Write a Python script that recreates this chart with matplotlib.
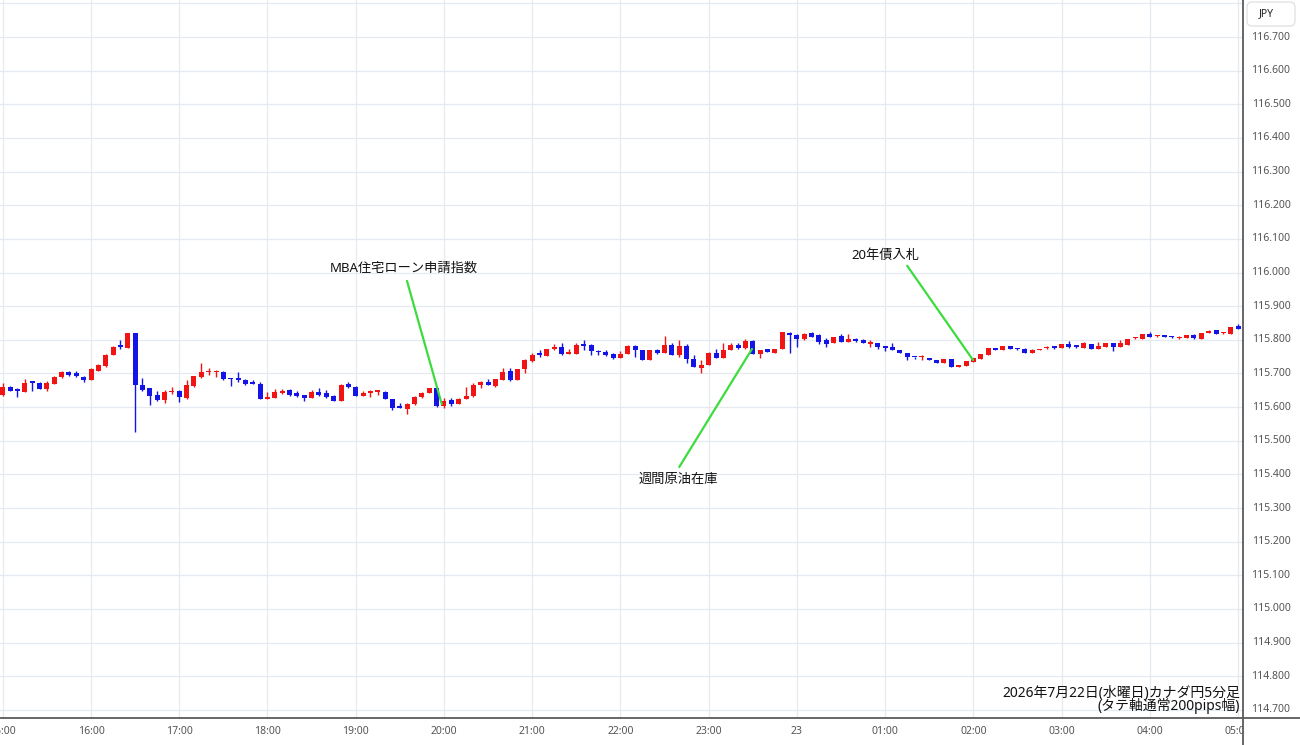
import matplotlib
matplotlib.use("Agg")
import matplotlib.pyplot as plt
from matplotlib import transforms
from matplotlib.patches import FancyBboxPatch, Rectangle
from matplotlib.lines import Line2D
import numpy as np

plt.rcParams['font.family'] = ['Noto Sans', 'Noto Sans CJK JP', 'DejaVu Sans']

# ---------------- data (5-minute candles, 15:00 -> 05:00) ----------------
tick_labels = ["15:00", "16:00", "17:00", "18:00", "19:00", "20:00", "21:00",
               "22:00", "23:00", "23", "01:00", "02:00", "03:00", "04:00", "05:00"]
candles_per_hour = 12

opens = [
    115.636, 115.661, 115.651, 115.646, 115.674, 115.673, 115.653, 115.670, 115.690, 115.705, 115.700, 115.690,
    115.680, 115.708, 115.722, 115.754, 115.781, 115.775, 115.820, 115.666, 115.656, 115.635, 115.620, 115.644,
    115.648, 115.627, 115.664, 115.690, 115.704, 115.703, 115.705, 115.687, 115.684, 115.680, 115.676, 115.670,
    115.625, 115.627, 115.641, 115.651, 115.643, 115.636, 115.627, 115.646, 115.641, 115.632, 115.619, 115.668,
    115.661, 115.632, 115.641, 115.646, 115.646, 115.625, 115.600, 115.594, 115.610, 115.629, 115.641, 115.656,
    115.604, 115.622, 115.610, 115.624, 115.632, 115.666, 115.676, 115.664, 115.680, 115.707, 115.680, 115.712,
    115.736, 115.757, 115.751, 115.773, 115.778, 115.759, 115.759, 115.788, 115.786, 115.765, 115.764, 115.759,
    115.747, 115.757, 115.783, 115.770, 115.741, 115.769, 115.762, 115.786, 115.754, 115.783, 115.744, 115.715,
    115.726, 115.761, 115.746, 115.770, 115.785, 115.776, 115.796, 115.759, 115.773, 115.762, 115.773, 115.821,
    115.813, 115.801, 115.820, 115.813, 115.798, 115.790, 115.810, 115.793, 115.803, 115.798, 115.789, 115.792,
    115.779, 115.778, 115.771, 115.761, 115.749, 115.748, 115.747, 115.741, 115.731, 115.744, 115.718, 115.723,
    115.734, 115.742, 115.756, 115.773, 115.770, 115.783, 115.774, 115.773, 115.762, 115.769, 115.775, 115.779,
    115.776, 115.788, 115.782, 115.776, 115.788, 115.773, 115.778, 115.790, 115.778, 115.785, 115.804, 115.803,
    115.818, 115.810, 115.811, 115.809, 115.805, 115.805, 115.815, 115.803, 115.821, 115.828, 115.819, 115.818,
    115.840,
]
highs = [
    115.673, 115.664, 115.656, 115.683, 115.675, 115.675, 115.677, 115.692, 115.708, 115.708, 115.707, 115.692,
    115.715, 115.729, 115.759, 115.782, 115.798, 115.821, 115.821, 115.688, 115.658, 115.648, 115.651, 115.661,
    115.651, 115.680, 115.692, 115.732, 115.715, 115.710, 115.708, 115.688, 115.705, 115.685, 115.680, 115.675,
    115.644, 115.654, 115.653, 115.653, 115.649, 115.636, 115.651, 115.656, 115.651, 115.636, 115.668, 115.674,
    115.663, 115.649, 115.651, 115.648, 115.648, 115.625, 115.612, 115.612, 115.632, 115.646, 115.657, 115.658,
    115.627, 115.627, 115.626, 115.661, 115.673, 115.677, 115.683, 115.685, 115.717, 115.715, 115.713, 115.744,
    115.761, 115.769, 115.773, 115.788, 115.790, 115.773, 115.791, 115.800, 115.788, 115.770, 115.770, 115.761,
    115.767, 115.786, 115.786, 115.770, 115.769, 115.773, 115.810, 115.790, 115.800, 115.788, 115.754, 115.741,
    115.764, 115.773, 115.791, 115.790, 115.790, 115.803, 115.798, 115.771, 115.773, 115.773, 115.823, 115.823,
    115.816, 115.820, 115.823, 115.816, 115.806, 115.808, 115.816, 115.816, 115.806, 115.803, 115.798, 115.792,
    115.783, 115.792, 115.771, 115.761, 115.749, 115.756, 115.747, 115.741, 115.744, 115.744, 115.724, 115.736,
    115.746, 115.759, 115.775, 115.773, 115.783, 115.783, 115.776, 115.775, 115.773, 115.773, 115.781, 115.783,
    115.788, 115.796, 115.786, 115.793, 115.788, 115.793, 115.790, 115.790, 115.798, 115.803, 115.808, 115.818,
    115.823, 115.813, 115.811, 115.811, 115.810, 115.815, 115.816, 115.821, 115.828, 115.830, 115.823, 115.839,
    115.847,
]
lows = [
    115.634, 115.647, 115.630, 115.646, 115.649, 115.653, 115.648, 115.670, 115.688, 115.692, 115.690, 115.675,
    115.680, 115.707, 115.718, 115.754, 115.773, 115.775, 115.525, 115.648, 115.607, 115.617, 115.612, 115.639,
    115.614, 115.624, 115.661, 115.688, 115.695, 115.690, 115.680, 115.663, 115.676, 115.665, 115.669, 115.624,
    115.624, 115.627, 115.639, 115.632, 115.630, 115.618, 115.627, 115.632, 115.627, 115.617, 115.619, 115.656,
    115.632, 115.632, 115.630, 115.636, 115.624, 115.592, 115.597, 115.580, 115.607, 115.626, 115.641, 115.600,
    115.597, 115.604, 115.608, 115.624, 115.630, 115.656, 115.666, 115.659, 115.680, 115.679, 115.680, 115.702,
    115.733, 115.749, 115.751, 115.769, 115.756, 115.759, 115.759, 115.770, 115.754, 115.754, 115.751, 115.744,
    115.747, 115.757, 115.749, 115.741, 115.741, 115.759, 115.762, 115.754, 115.749, 115.731, 115.720, 115.702,
    115.724, 115.747, 115.746, 115.770, 115.773, 115.773, 115.759, 115.747, 115.764, 115.762, 115.773, 115.762,
    115.780, 115.798, 115.808, 115.788, 115.780, 115.790, 115.793, 115.793, 115.793, 115.790, 115.780, 115.773,
    115.767, 115.770, 115.761, 115.741, 115.744, 115.739, 115.741, 115.731, 115.731, 115.718, 115.718, 115.723,
    115.734, 115.742, 115.756, 115.770, 115.770, 115.773, 115.770, 115.762, 115.762, 115.769, 115.772, 115.773,
    115.776, 115.776, 115.776, 115.776, 115.773, 115.773, 115.778, 115.767, 115.778, 115.785, 115.802, 115.803,
    115.808, 115.808, 115.809, 115.806, 115.803, 115.805, 115.803, 115.803, 115.821, 115.818, 115.818, 115.818,
    115.832,
]
closes = [
    115.661, 115.649, 115.649, 115.673, 115.672, 115.654, 115.673, 115.690, 115.703, 115.695, 115.693, 115.680,
    115.712, 115.726, 115.756, 115.780, 115.779, 115.820, 115.666, 115.651, 115.634, 115.620, 115.644, 115.646,
    115.630, 115.666, 115.692, 115.705, 115.705, 115.706, 115.685, 115.683, 115.682, 115.670, 115.669, 115.624,
    115.626, 115.646, 115.649, 115.636, 115.634, 115.626, 115.646, 115.637, 115.630, 115.619, 115.666, 115.661,
    115.632, 115.641, 115.648, 115.647, 115.624, 115.597, 115.598, 115.610, 115.630, 115.643, 115.656, 115.604,
    115.619, 115.610, 115.625, 115.634, 115.666, 115.676, 115.666, 115.683, 115.705, 115.680, 115.713, 115.739,
    115.756, 115.755, 115.773, 115.778, 115.759, 115.760, 115.785, 115.783, 115.767, 115.763, 115.755, 115.747,
    115.759, 115.783, 115.769, 115.741, 115.769, 115.762, 115.786, 115.754, 115.783, 115.744, 115.720, 115.724,
    115.761, 115.747, 115.770, 115.785, 115.776, 115.796, 115.759, 115.771, 115.764, 115.773, 115.823, 115.813,
    115.803, 115.818, 115.808, 115.793, 115.788, 115.808, 115.793, 115.803, 115.796, 115.791, 115.791, 115.780,
    115.777, 115.771, 115.761, 115.749, 115.748, 115.749, 115.741, 115.731, 115.744, 115.718, 115.724, 115.736,
    115.746, 115.759, 115.775, 115.770, 115.782, 115.773, 115.772, 115.762, 115.770, 115.773, 115.777, 115.777,
    115.788, 115.778, 115.780, 115.790, 115.773, 115.783, 115.790, 115.778, 115.790, 115.803, 115.806, 115.818,
    115.808, 115.812, 115.809, 115.807, 115.807, 115.815, 115.804, 115.821, 115.827, 115.818, 115.821, 115.839,
    115.832,
]

price_ticks = [114.7, 114.8, 114.9, 115.0, 115.1, 115.2, 115.3, 115.4, 115.5, 115.6,
               115.7, 115.8, 115.9, 116.0, 116.1, 116.2, 116.3, 116.4, 116.5, 116.6, 116.7]
price_labels = ["114.700", "114.800", "114.900", "115.000", "115.100", "115.200", "115.300",
                "115.400", "115.500", "115.600", "115.700", "115.800", "115.900", "116.000",
                "116.100", "116.200", "116.300", "116.400", "116.500", "116.600", "116.700"]

event_labels = ["MBA住宅ローン申請指数", "週間原油在庫", "20年債入札"]
event_candle = [59.7, 101.9, 131.95]
event_price = [115.609, 115.773, 115.740]

title_line1 = "2026年7月22日(水曜日)カナダ円5分足"
title_line2 = "(タテ軸通常200pips幅)"

# ---------------- style ----------------
RED = "#f01414"
BLUE = "#1414e6"
GREEN = "#3ddc3d"
GRID = "#e4eaf0"
AXIS = "#5a5a5a"
TICK = "#555555"

W, H = 1300, 745
fig = plt.figure(figsize=(W / 100, H / 100), dpi=100)
fig.patch.set_facecolor("white")

ax_right = 1243
ax_bottom = 718
ax = fig.add_axes([0, (H - ax_bottom) / H, ax_right / W, ax_bottom / H])
ax.set_facecolor("white")

o = np.array(opens)
h = np.array(highs)
l = np.array(lows)
c = np.array(closes)
x = np.arange(len(o))
colors = np.where(c >= o, RED, BLUE)

ax.vlines(x, l, h, colors=colors, lw=1.0, zorder=3)
bottoms = np.minimum(o, c)
heights = np.maximum(np.abs(c - o), 0.0045)
ax.bar(x, heights, bottom=bottoms, width=0.68, color=colors, lw=0, zorder=4)

ax.set_xlim(-0.38, 168.67)
ax.set_ylim(114.676, 116.810)

ax.set_xticks(np.arange(len(tick_labels)) * candles_per_hour)
ax.set_xticklabels(tick_labels)
ax.set_yticks(price_ticks + [116.8])
ax.grid(True, color=GRID, lw=0.9, zorder=0)
ax.tick_params(axis="x", length=0, pad=6, labelsize=7.5, labelcolor=TICK)
ax.tick_params(axis="y", length=0, labelleft=False, labelright=False)
for s in ax.spines.values():
    s.set_visible(False)

# annotations
text_offsets = [(54.97, 115.975, 54.5, 116.013, "center", "bottom"),
                (92.0, 115.422, 91.9, 115.386, "center", "top"),
                (123.0, 116.020, 120.1, 116.052, "center", "bottom")]
for lab, ex, ey, (lx, ly, tx, ty, ha, va) in zip(event_labels, event_candle, event_price, text_offsets):
    ax.plot([ex, lx], [ey, ly], color=GREEN, lw=1.6, zorder=5, solid_capstyle="round")
    ax.text(tx, ty, lab, ha=ha, va="center", fontsize=9.5, color="#111111", zorder=6)

# right price panel (covers overflow of x labels)
fig.add_artist(Rectangle((ax_right / W, 0), 1 - ax_right / W, 1, transform=fig.transFigure,
                         facecolor="white", edgecolor="none", zorder=2))
trans = transforms.blended_transform_factory(fig.transFigure, ax.transData)
for p, lab in zip(price_ticks, price_labels):
    fig.text(1271 / W, p, lab, transform=trans, ha="center", va="center",
             fontsize=7.5, color=TICK, zorder=3)

# JPY box
fig.add_artist(FancyBboxPatch((1247 / W, 1 - 26 / H), 48 / W, 24 / H,
                              boxstyle="round,pad=0,rounding_size=0.004",
                              mutation_aspect=W / H,
                              transform=fig.transFigure, facecolor="white",
                              edgecolor="#dcdcdc", lw=0.8, zorder=3))
fig.text(1266 / W, 1 - 14 / H, "JPY", ha="center", va="center", fontsize=7.5,
         color="#222222", zorder=4)

# axis lines
fig.add_artist(Line2D([0, 1], [(H - ax_bottom) / H] * 2, transform=fig.transFigure,
                      color=AXIS, lw=1.3, zorder=5))
fig.add_artist(Line2D([ax_right / W] * 2, [0, 1], transform=fig.transFigure,
                      color=AXIS, lw=1.3, zorder=5))

# title bottom right
fig.text(1240 / W, 1 - 693 / H, title_line1, ha="right", va="center", fontsize=10,
         color="#111111", zorder=4)
fig.text(1240 / W, 1 - 706 / H, title_line2, ha="right", va="center", fontsize=10,
         color="#111111", zorder=4)

fig.savefig("out.png", dpi=100, facecolor="white")
